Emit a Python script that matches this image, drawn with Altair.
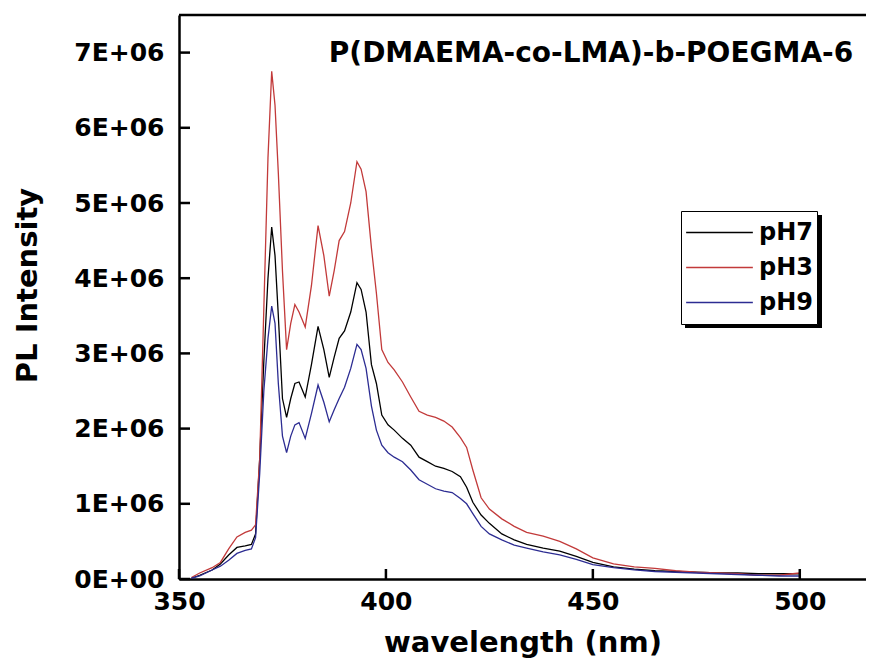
import altair as alt
import pandas as pd

# ---------------- data ----------------
wavelength = [353, 355, 358, 360, 362, 364, 366, 367.5, 368.5, 369.5, 370.5, 371.5,
              372.4, 373.2, 374, 375, 376, 377, 378, 379, 380.5, 382, 383.6, 385,
              386.3, 387.5, 388.7, 390, 391.5, 393, 394, 395.2, 396.5, 397.7, 399,
              400.5, 402, 404, 406, 408, 410, 412, 414, 416, 418, 419.5, 421, 423,
              425, 428, 431, 434, 438, 442, 446, 450, 455, 460, 465, 470, 475, 480,
              485, 490, 495, 500]

# intensities in units of 1E+06
ph7 = [0.01, 0.05, 0.12, 0.20, 0.32, 0.42, 0.44, 0.46, 0.60, 1.60, 2.90, 4.00,
       4.68, 4.30, 3.50, 2.40, 2.15, 2.40, 2.60, 2.62, 2.42, 2.85, 3.36, 3.05,
       2.68, 2.95, 3.20, 3.30, 3.55, 3.94, 3.85, 3.55, 2.85, 2.60, 2.18,
       2.05, 1.98, 1.87, 1.78, 1.62, 1.56, 1.50, 1.47, 1.43, 1.36, 1.22, 1.02, 0.85,
       0.74, 0.60, 0.52, 0.46, 0.41, 0.37, 0.30, 0.22, 0.16, 0.13, 0.11, 0.10, 0.09, 0.08,
       0.08, 0.07, 0.07, 0.07]

ph3 = [0.02, 0.08, 0.15, 0.22, 0.40, 0.56, 0.62, 0.65, 0.72, 1.60, 3.60, 5.60,
       6.75, 6.30, 5.40, 4.10, 3.05, 3.40, 3.65, 3.55, 3.35, 3.90, 4.70, 4.30,
       3.76, 4.10, 4.50, 4.62, 5.00, 5.55, 5.45, 5.15, 4.40, 3.80, 3.05,
       2.88, 2.78, 2.62, 2.42, 2.23, 2.18, 2.15, 2.10, 2.02, 1.88, 1.75, 1.45, 1.08,
       0.93, 0.80, 0.70, 0.62, 0.57, 0.50, 0.40, 0.28, 0.20, 0.16, 0.14, 0.11, 0.09, 0.08,
       0.07, 0.05, 0.05, 0.08]

ph9 = [0.01, 0.04, 0.12, 0.17, 0.25, 0.34, 0.38, 0.40, 0.55, 1.40, 2.50, 3.20,
       3.63, 3.40, 2.60, 1.90, 1.68, 1.90, 2.05, 2.08, 1.87, 2.20, 2.58, 2.35,
       2.09, 2.25, 2.40, 2.55, 2.80, 3.12, 3.05, 2.80, 2.30, 1.98, 1.78,
       1.68, 1.62, 1.56, 1.45, 1.32, 1.26, 1.20, 1.17, 1.15, 1.07, 1.00, 0.87, 0.70,
       0.60, 0.52, 0.45, 0.41, 0.36, 0.32, 0.26, 0.19, 0.15, 0.12, 0.10, 0.09, 0.08, 0.07,
       0.06, 0.05, 0.04, 0.04]

series = ["pH7", "pH3", "pH9"]
colors = ["#000000", "#c23a3a", "#2c2c92"]
x_ticks = [350, 400, 450, 500]
y_ticks = [0, 1e6, 2e6, 3e6, 4e6, 5e6, 6e6, 7e6]
annotation = "P(DMAEMA-co-LMA)-b-POEGMA-6"
annotation_pos = {"wavelength": 512.9, "intensity": 6.875e6}

# ---------------- build tables ----------------
rows = []
for name, vals in zip(series, [ph7, ph3, ph9]):
    for w, v in zip(wavelength, vals):
        rows.append({"wavelength": w, "intensity": v * 1e6, "series": name})
df = pd.DataFrame(rows)

xt = pd.DataFrame({"wavelength": x_ticks})
yt = pd.DataFrame({"intensity": y_ticks})
ann = pd.DataFrame([{**annotation_pos, "text": annotation}])
one = pd.DataFrame({"a": [0]})

W, H = 687, 564
FONT = "DejaVu Sans"

xscale = alt.Scale(domain=[350, 516], nice=False, zero=False)
yscale = alt.Scale(domain=[0, 7.5e6], nice=False, zero=False)

x_axis = alt.Axis(values=x_ticks, ticks=False, grid=False, domainColor="black",
                  domainWidth=2.5, labelFont=FONT, labelFontSize=25,
                  labelFontWeight="bold", labelColor="black", labelPadding=10,
                  labelFlush=False, title="wavelength (nm)", titleFont=FONT,
                  titleFontSize=29, titleFontWeight="bold", titleColor="black",
                  titleBaseline="alphabetic", titleY=72)
y_axis = alt.Axis(values=y_ticks, ticks=False, grid=False, domainColor="black",
                  domainWidth=2.5, labelFont=FONT, labelFontSize=25,
                  labelFontWeight="bold", labelColor="black", labelPadding=15,
                  labelFlush=False,
                  labelExpr="datum.value == 0 ? '0E+00' : format(datum.value/1e6, 'd') + 'E+06'",
                  title="PL Intensity", titleFont=FONT, titleFontSize=29,
                  titleFontWeight="bold", titleColor="black", titleAngle=270,
                  titleAlign="center", titleBaseline="middle", titleX=-152, titleY=270)

X = alt.X("wavelength:Q", scale=xscale, axis=x_axis)
Y = alt.Y("intensity:Q", scale=yscale, axis=y_axis)

lines = alt.Chart(df).mark_line(strokeWidth=1.3, clip=True).encode(
    x=X,
    y=Y,
    color=alt.Color("series:N", scale=alt.Scale(domain=series, range=colors),
                    sort=series,
                    legend=alt.Legend(orient="none", legendX=502, legendY=196,
                                      title=None, symbolType="stroke",
                                      symbolSize=4450, symbolStrokeWidth=1.5,
                                      labelFont=FONT, labelFontSize=24,
                                      labelFontWeight="bold", labelColor="black",
                                      strokeColor="black", fillColor="white",
                                      padding=4, clipHeight=35, rowPadding=0,
                                      labelOffset=5)),
    detail="series:N",
)

x_tick_marks = alt.Chart(xt).mark_rule(color="black", strokeWidth=2.5).encode(
    x=X, y=alt.value(H), y2=alt.value(H - 10))

y_tick_marks = alt.Chart(yt).mark_rule(color="black", strokeWidth=2.5).encode(
    y=Y, x=alt.value(0), x2=alt.value(11))

top_border = alt.Chart(one).mark_rule(color="black", strokeWidth=2.5).encode(
    x=alt.value(0), x2=alt.value(W), y=alt.value(0))

shadow = alt.Chart(one).mark_rect(color="black").encode(
    x=alt.value(506), x2=alt.value(643), y=alt.value(200), y2=alt.value(313))

title_text = alt.Chart(ann).mark_text(font=FONT, fontSize=28, fontWeight="bold",
                                      color="black", align="right",
                                      baseline="alphabetic").encode(
    x=X, y=Y, text="text:N")

chart = alt.layer(shadow, lines, x_tick_marks, y_tick_marks, top_border, title_text).properties(
    width=W, height=H,
    autosize=alt.AutoSizeParams(type="none"),
    padding={"left": 171, "top": 7, "right": 0, "bottom": 82},
    background="white",
).configure_view(stroke=None)

chart.save("out.html", embed_options={"renderer": "svg", "actions": False})
